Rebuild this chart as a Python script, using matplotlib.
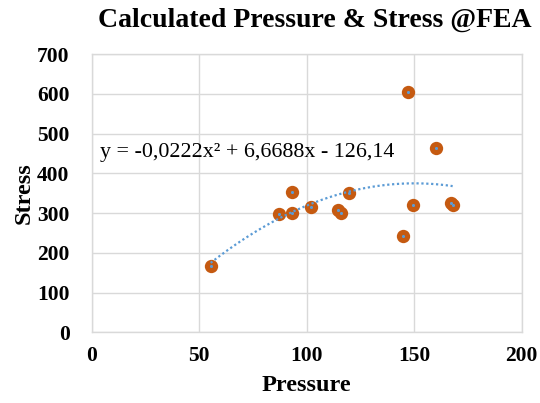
import matplotlib
matplotlib.use("Agg")
import matplotlib.pyplot as plt
import numpy as np

pressure = [55.3, 87.3, 93.0, 93.0, 101.9, 114.4, 115.8, 119.5, 145.0, 147.3, 149.6, 160.2, 167.1, 167.9]
stress = [167, 297, 299, 352, 314, 308, 299, 350, 242, 604, 320, 464, 326, 320]
trend_coef = [-0.0222, 6.6688, -126.14]
trend_label = "y = -0,0222x² + 6,6688x - 126,14"
x_ticks = [0, 50, 100, 150, 200]
y_ticks = [0, 100, 200, 300, 400, 500, 600, 700]

plt.rcParams['font.family'] = ['Liberation Serif', 'DejaVu Serif']

fig = plt.figure(figsize=(5.4, 4.03), dpi=100)
ax = fig.add_axes([0.170, 0.1754, 0.796, 0.6906])

grid_c = '#D9D9D9'
ax.set_xlim(0, 200)
ax.set_ylim(0, 700)
ax.set_xticks(x_ticks)
ax.set_yticks(y_ticks)
ax.grid(True, color=grid_c, linewidth=1.0)
ax.set_axisbelow(True)
for s in ax.spines.values():
    s.set_color(grid_c)
    s.set_linewidth(1.0)
ax.tick_params(length=0, pad=10, labelsize=15.5)
for lab in ax.get_xticklabels() + ax.get_yticklabels():
    lab.set_fontweight('bold')
ax.tick_params(axis='y', pad=16)

ax.scatter(pressure, stress, s=92, color='#C55A11', zorder=3, linewidths=0)
ax.scatter(pressure, stress, s=5, color='#5B9BD5', zorder=4, linewidths=0)

xs = np.linspace(min(pressure), max(pressure), 200)
ax.plot(xs, np.polyval(trend_coef, xs), linestyle=(0, (1, 1.2)), color='#5B9BD5',
        linewidth=1.6, zorder=5)

ax.text(3.7, 452, trend_label, fontsize=15.8, va='center', ha='left')

ax.set_xlabel('Pressure', fontsize=17.5, fontweight='bold', labelpad=6)
ax.set_ylabel('Stress', fontsize=17.5, fontweight='bold', labelpad=2)
fig.suptitle('Calculated Pressure & Stress @FEA', fontsize=20, fontweight='bold',
             x=0.583, y=0.98)

fig.savefig('out.png', dpi=100)
